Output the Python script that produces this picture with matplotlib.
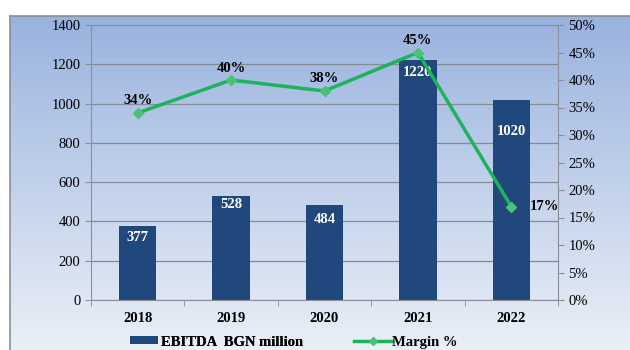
import numpy as np
import matplotlib
matplotlib.use("Agg")
import matplotlib.pyplot as plt
from matplotlib.lines import Line2D
from matplotlib.patches import Patch

years = ["2018", "2019", "2020", "2021", "2022"]
ebitda = [377, 528, 484, 1220, 1020]
margin = [34, 40, 38, 45, 17]
# how far below the bar top each white label sits (data units)
label_drop = [60, 40, 75, 60, 160]

plt.rcParams["font.family"] = ["Liberation Serif", "DejaVu Serif"]

fig = plt.figure(figsize=(6.3, 3.5), dpi=100)

# gradient frame behind the chart
bg = fig.add_axes([10 / 630, 0, 620 / 630, 334 / 350])
top = np.array([0.60, 0.70, 0.87])
bot = np.array([0.92, 0.94, 0.97])
t = np.linspace(0, 1, 256)[:, None]
grad = top * (1 - t) + bot * t
bg.imshow(grad[:, None, :].repeat(2, axis=1), aspect="auto", extent=[0, 1, 0, 1])
bg.set_xticks([])
bg.set_yticks([])
for s in ("right", "bottom"):
    bg.spines[s].set_visible(False)
for s in ("left", "top"):
    bg.spines[s].set_color("#8a8f99")
    bg.spines[s].set_linewidth(1.2)

ax = fig.add_axes([91 / 630, 50 / 350, 467 / 630, 275 / 350])
ax.patch.set_alpha(0)
x = np.arange(len(years))
ax.bar(x, ebitda, width=0.4, color="#21487d", zorder=2)
for xi, v, d in zip(x, ebitda, label_drop):
    ax.text(xi, v - d, str(v), ha="center", va="center", color="white",
            fontsize=10.5, fontweight="bold", zorder=3)
ax.set_ylim(0, 1400)
ax.set_xlim(-0.5, 4.5)
ax.set_yticks(range(0, 1401, 200))
ax.set_xticks(x)
ax.set_xticklabels(years, fontweight="bold", fontsize=10.5)
ax.set_xticks(np.arange(-0.5, 5, 1), minor=True)
ax.tick_params(axis="x", which="major", length=0, pad=9)
ax.tick_params(axis="x", which="minor", length=4, color="#8a8f99")
ax.tick_params(axis="y", length=4, color="#8a8f99", labelsize=10.5)
ax.grid(axis="y", color="#858b96", lw=0.9, zorder=1)
for s in ("top", "right"):
    ax.spines[s].set_visible(False)
for s in ("left", "bottom"):
    ax.spines[s].set_color("#8a8f99")

ax2 = ax.twinx()
ax2.plot(x, margin, color="#1db35c", lw=2.5, marker="D", ms=5,
         mfc="#4cbf78", mec="#4cbf78", zorder=4)
ax2.set_ylim(0, 50)
ax2.set_yticks(range(0, 51, 5))
ax2.set_yticklabels([f"{v}%" for v in range(0, 51, 5)])
ax2.tick_params(axis="y", length=4, color="#8a8f99", labelsize=10.5)
for s in ("top", "left", "bottom"):
    ax2.spines[s].set_visible(False)
ax2.spines["right"].set_color("#8a8f99")
for i, (xi, m) in enumerate(zip(x, margin)):
    if i == len(margin) - 1:
        ax2.text(xi + 0.2, m, f"{m}%", ha="left", va="center",
                 fontsize=10.5, fontweight="bold")
    else:
        ax2.text(xi, m + 1.0, f"{m}%", ha="center", va="bottom",
                 fontsize=10.5, fontweight="bold")

prop = {"weight": "bold", "size": 10.5}
leg1 = fig.legend(handles=[Patch(facecolor="#21487d", edgecolor="none", lw=0,
                                 label="EBITDA  BGN million")],
                  loc="center left", bbox_to_anchor=(117 / 630, 8 / 350),
                  frameon=False, handlelength=1.9, handleheight=0.45,
                  handletextpad=0.2, prop=prop)
fig.legend(handles=[Line2D([], [], color="#1db35c", lw=2.5, marker="D", ms=4,
                           mfc="#4cbf78", mec="#4cbf78", label="Margin %")],
           loc="center left", bbox_to_anchor=(341 / 630, 8 / 350),
           frameon=False, handlelength=2.6, handletextpad=0.0, prop=prop)
fig.add_artist(leg1)

fig.savefig("out.png", dpi=100)
